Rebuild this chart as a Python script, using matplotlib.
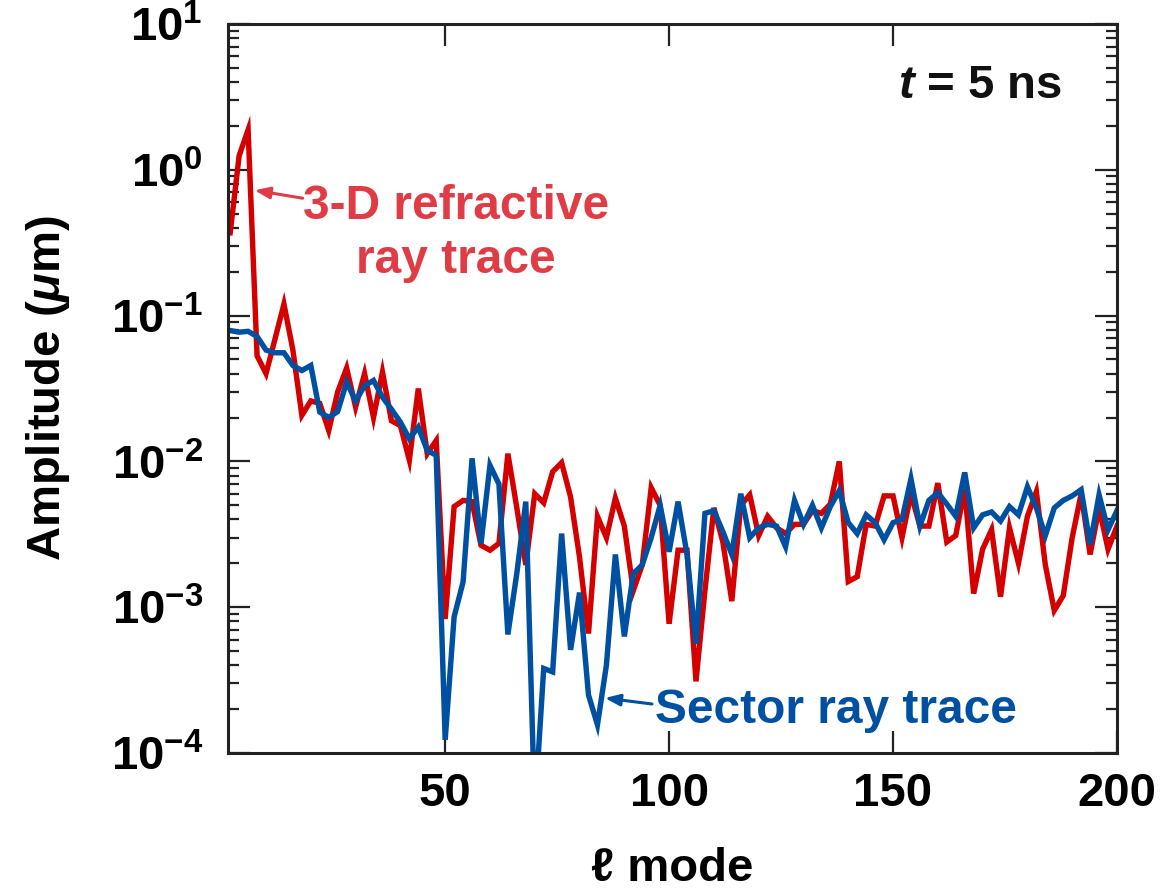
import matplotlib
matplotlib.use("Agg")
import matplotlib.pyplot as plt
import numpy as np
from matplotlib.ticker import LogLocator, FixedLocator, NullLocator

# mode number l (even modes only)
ell = np.arange(2, 201, 2)

# 3-D refractive ray trace amplitude (um)
refractive = [
    0.37, 1.25, 1.88, 0.053, 0.040, 0.069, 0.12, 0.058, 0.0207, 0.026,
    0.025, 0.0163, 0.030, 0.0437, 0.0236, 0.040, 0.020, 0.041, 0.019, 0.0176,
    0.0102, 0.0316, 0.0113, 0.0139, 8.3e-4, 0.0049, 0.0054, 0.0053, 0.00266, 0.00246,
    0.00274, 0.0113, 0.0048, 0.00195, 0.0060, 0.0052, 0.0085, 0.0098, 0.0057, 0.0022,
    6.6e-4, 0.0042, 0.0030, 0.0056, 0.0036, 0.0013, 0.00195, 0.0066, 0.0050, 7.7e-4,
    0.00246, 0.00246, 3.1e-4, 0.0013, 0.0048, 0.0028, 0.0011, 0.0050, 0.0059, 0.0031,
    0.0042, 0.0035, 0.0032, 0.0037, 0.0037, 0.0046, 0.0044, 0.0051, 0.0100, 0.0015,
    0.00162, 0.0037, 0.0036, 0.0058, 0.0058, 0.0030, 0.0060, 0.0036, 0.0036, 0.0071,
    0.0028, 0.0031, 0.0065, 0.00124, 0.0025, 0.0034, 0.00118, 0.0035, 0.0020, 0.0042,
    0.0062, 0.00195, 9.5e-4, 0.0012, 0.0030, 0.0060, 0.0023, 0.0048, 0.0025, 0.0036,
]

# sector ray trace amplitude (um)
sector = [
    0.079, 0.077, 0.078, 0.072, 0.058, 0.0556, 0.0556, 0.0455, 0.042, 0.0455,
    0.0218, 0.020, 0.022, 0.035, 0.026, 0.033, 0.0359, 0.0276, 0.0228, 0.0186,
    0.0143, 0.0172, 0.0119, 0.011, 1.23e-4, 8.6e-4, 0.00149, 0.0105, 0.00273, 0.0094,
    0.0070, 6.5e-4, 0.00171, 0.0053, 4e-5, 3.8e-4, 3.6e-4, 0.0032, 5.1e-4, 0.00126,
    2.5e-4, 1.56e-4, 4.0e-4, 0.0023, 6.3e-4, 0.0017, 0.00195, 0.0030, 0.0050, 0.0024,
    0.0053, 0.0023, 5.6e-4, 0.0044, 0.0046, 0.0033, 0.0023, 0.0060, 0.0030, 0.0035,
    0.0037, 0.0036, 0.0026, 0.0054, 0.0037, 0.0050, 0.0035, 0.0049, 0.0063, 0.0038,
    0.0032, 0.0043, 0.0038, 0.0029, 0.0038, 0.0040, 0.0076, 0.0036, 0.0054, 0.0061,
    0.0051, 0.0042, 0.0084, 0.0035, 0.0043, 0.0045, 0.0039, 0.0049, 0.0043, 0.0067,
    0.0048, 0.0031, 0.0048, 0.0054, 0.0058, 0.0064, 0.0027, 0.0059, 0.0034, 0.0046,
]

RED = "#d40000"
RED_TXT = "#e03c46"
BLUE = "#0050a2"

plt.rcParams['font.family'] = ['Liberation Sans', 'DejaVu Sans']
plt.rcParams['font.weight'] = 'bold'
plt.rcParams['axes.labelweight'] = 'bold'
plt.rcParams['mathtext.fontset'] = 'custom'
plt.rcParams['mathtext.rm'] = 'Liberation Sans:bold'
plt.rcParams['mathtext.bf'] = 'Liberation Sans:bold'
plt.rcParams['mathtext.it'] = 'Liberation Sans:italic:bold'

fig = plt.figure(figsize=(11.69, 8.96), dpi=100)
ax = fig.add_axes([0.195, 0.1596, 0.9555 - 0.195, 0.9732 - 0.1596])

ax.plot(ell, refractive, color=RED, lw=3.9, solid_joinstyle='miter')
ax.plot(ell, sector, color=BLUE, lw=3.9, solid_joinstyle='miter')

ax.set_yscale('log')
ax.set_xlim(1.5, 200)
ax.set_ylim(1e-4, 10)

ax.xaxis.set_major_locator(FixedLocator([50, 100, 150, 200]))
ax.xaxis.set_minor_locator(NullLocator())
ax.yaxis.set_major_locator(LogLocator(base=10, numticks=10))
ax.yaxis.set_minor_locator(LogLocator(base=10, subs=np.arange(2, 10), numticks=20))

for s in ax.spines.values():
    s.set_linewidth(2.2)
    s.set_color('#222222')

ax.tick_params(which='both', direction='in', top=True, right=True, color='#222222')
ax.tick_params(which='major', length=16, width=1.6, labelsize=34, pad=14)
ax.tick_params(which='minor', length=8, width=1.6)
ax.tick_params(axis='y', which='major', pad=18)

ax.set_xlabel(r"ℓ mode", fontsize=34, labelpad=22)
ax.set_ylabel(r"Amplitude ($\mu$m)", fontsize=34, labelpad=28)

ax.text(0.938, 0.898, r"$t$ = 5 ns", transform=ax.transAxes, ha='right',
        va='baseline', fontsize=34, color='#111111')

ax.text(0.2565, 0.733, "3-D refractive", transform=ax.transAxes, ha='center',
        va='baseline', fontsize=34.5, color=RED_TXT)
ax.text(0.2565, 0.659, "ray trace", transform=ax.transAxes, ha='center',
        va='baseline', fontsize=34.5, color=RED_TXT)
ax.annotate("", xy=(0.030, 0.772), xytext=(0.084, 0.761),
            xycoords='axes fraction', textcoords='axes fraction',
            arrowprops=dict(arrowstyle='-|>,head_length=0.9,head_width=0.35',
                            color=RED_TXT, lw=2.2, shrinkA=0, shrinkB=0))

ax.text(0.480, 0.041, "Sector ray trace", transform=ax.transAxes, ha='left',
        va='baseline', fontsize=34.5, color=BLUE)
ax.annotate("", xy=(0.424, 0.0754), xytext=(0.477, 0.0672),
            xycoords='axes fraction', textcoords='axes fraction',
            arrowprops=dict(arrowstyle='-|>,head_length=0.9,head_width=0.35',
                            color=BLUE, lw=2.2, shrinkA=0, shrinkB=0))

fig.savefig("out.png", dpi=100)
